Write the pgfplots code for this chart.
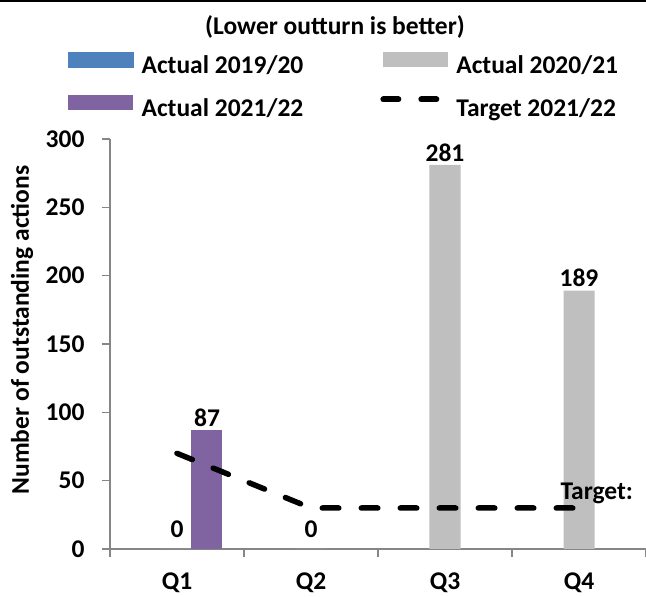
\documentclass[border=0pt]{standalone}
\usepackage{pgfplots}
\pgfplotsset{compat=1.18}
\usepackage{fontspec}
\setmainfont{Carlito}
\usetikzlibrary{calc}
\definecolor{cblue}{RGB}{79,129,189}
\definecolor{cgrey}{RGB}{191,191,191}
\definecolor{cpurple}{RGB}{128,100,162}
\definecolor{caxis}{RGB}{134,134,134}
\newcommand{\lbl}{\fontsize{25.5}{30}\selectfont\bfseries}

\begin{document}
\begin{tikzpicture}
\begin{axis}[
  name=ax,
  scale only axis,
  width=536pt, height=410pt,
  xmin=0.5, xmax=4.5,
  ymin=0, ymax=300,
  enlargelimits=false,
  clip=false,
  axis lines=left,
  axis line style={-, caxis, line width=1.3pt},
  tick align=outside,
  major tick length=8pt,
  tick style={caxis, line width=1.3pt},
  ytick={0,50,...,300},
  xtick={0.5,1.5,2.5,3.5,4.5},
  xticklabels={},
  extra x ticks={1,2,3,4},
  extra x tick labels={Q1,Q2,Q3,Q4},
  extra x tick style={major tick length=0pt, xticklabel style={anchor=base, yshift=-41pt}},
  tick label style={font=\lbl},
  yticklabel style={xshift=-14pt},
  /pgf/number format/assume math mode=true,
  ylabel={Number of outstanding actions},
  every axis y label/.style={at={(axis description cs:-0.1642,0.534)}, rotate=90, anchor=center, font=\lbl},
  ybar, bar width=31pt,
  every node near coord/.append style={font=\lbl, black},
  legend columns=2,
  legend cell align=left,
  legend style={at={(axis description cs:-0.0784,1.2122)}, anchor=north west,
    draw=none, fill=none, inner sep=0pt, font=\lbl,
    nodes={inner sep=0pt, text height=19pt, text depth=6pt},
    row sep=15pt,
    /tikz/every odd column/.append style={column sep=8pt},
    /tikz/every even column/.append style={column sep=77pt}},
]
% legend-only entry: no 2019/20 values are plotted
\addlegendimage{legend image code/.code={\fill[cblue] (0pt,0pt) rectangle (65pt,15pt);}}
\addlegendentry{Actual 2019/20}

\addplot[fill=cgrey, draw=none, bar shift=0pt, nodes near coords,
  legend image code/.code={\fill[cgrey] (0pt,0pt) rectangle (65pt,15pt);}]
  coordinates {(3,281) (4,189)};
\addlegendentry{Actual 2020/21}

% zero outturn quarters, labelled a little higher
\addplot[forget plot, fill=cgrey, draw=none, bar shift=0pt, nodes near coords,
  every node near coord/.append style={yshift=8pt}]
  coordinates {(1,0) (2,0)};

\addplot[fill=cpurple, draw=none, bar shift=30pt, nodes near coords,
  legend image code/.code={\fill[cpurple] (0pt,0pt) rectangle (65pt,15pt);}]
  coordinates {(1,87)};
\addlegendentry{Actual 2021/22}

\addplot[sharp plot, mark=none, black, line width=5.5pt, line cap=round, line join=round,
  dash pattern=on 16.5pt off 22.5pt,
  legend image code/.code={\draw[black, line width=6pt, line cap=round, dash pattern=on 15pt off 23pt] (0pt,10.5pt) -- (62pt,10.5pt);}]
  coordinates {(1,70) (2,30) (3,30) (4,30)};
\addlegendentry{Target 2021/22}

\node[font=\lbl, anchor=base] at (axis description cs:0.4198,1.256) {(Lower outturn is better)};
\node[font=\lbl, anchor=base west, xshift=-22pt, yshift=8pt] at (axis cs:4,30) {Target:};
\end{axis}
\pgfresetboundingbox
\path[use as bounding box] ($(ax.south west)+(-110pt,-48pt)$) rectangle ($(ax.north east)+(0pt,139pt)$);
\draw[line width=2.5pt] ($(ax.north west)+(-110pt,137.8pt)$) -- ($(ax.north east)+(0pt,137.8pt)$);
\end{tikzpicture}
\end{document}
